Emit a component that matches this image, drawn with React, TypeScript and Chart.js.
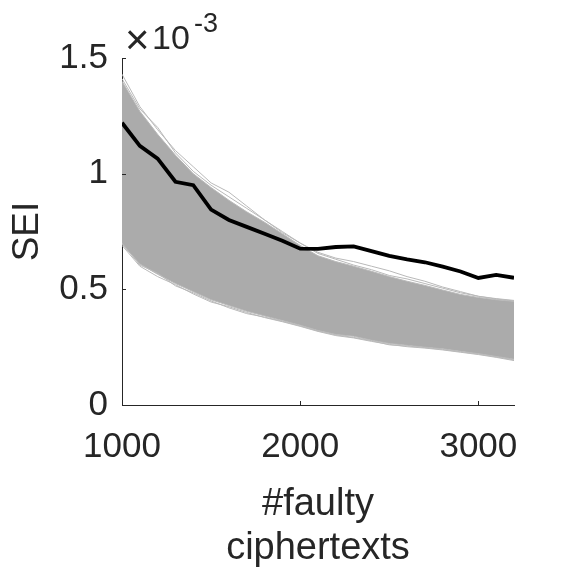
import React, { useEffect, useRef } from 'react';
import { Chart, registerables } from 'chart.js';

Chart.register(...registerables);

// x: number of faulty ciphertexts
const faultyCiphertexts = [1000, 1100, 1200, 1300, 1400, 1500, 1600, 1700, 1800, 1900, 2000, 2100, 2200, 2300, 2400, 2500, 2600, 2700, 2800, 2900, 3000, 3100, 3200];

// all SEI values in units of 1e-3
const seiCorrectKey = [1.22, 1.12, 1.065, 0.965, 0.95, 0.845, 0.8, 0.77, 0.74, 0.71, 0.676, 0.675, 0.683, 0.686, 0.665, 0.645, 0.63, 0.617, 0.598, 0.577, 0.549, 0.562, 0.55];

// envelope of the wrong-key SEI curves (grey band)
const seiWrongUpper = [1.4, 1.27, 1.17, 1.08, 1.0, 0.94, 0.885, 0.835, 0.79, 0.74, 0.69, 0.645, 0.62, 0.6, 0.578, 0.555, 0.535, 0.517, 0.497, 0.478, 0.465, 0.455, 0.448];
const seiWrongLower = [0.695, 0.61, 0.565, 0.525, 0.49, 0.455, 0.43, 0.405, 0.385, 0.365, 0.345, 0.322, 0.305, 0.297, 0.28, 0.266, 0.258, 0.25, 0.243, 0.232, 0.222, 0.21, 0.198];

// a few individual wrong-key curves visible at the band edges
const seiWrongHigh1 = [1.43, 1.29, 1.19, 1.1, 1.03, 0.96, 0.92, 0.86, 0.8, 0.75, 0.7, 0.66, 0.635, 0.62, 0.6, 0.58, 0.555, 0.535, 0.51, 0.49, 0.47, 0.46, 0.452];
const seiWrongHigh2 = [1.41, 1.28, 1.2, 1.09, 1.01, 0.95, 0.9, 0.85, 0.8, 0.745, 0.7, 0.655, 0.63, 0.605, 0.585, 0.56, 0.545, 0.525, 0.505, 0.485, 0.47, 0.458, 0.45];
const seiWrongLow1 = [0.69, 0.6, 0.555, 0.52, 0.48, 0.445, 0.425, 0.4, 0.378, 0.36, 0.34, 0.318, 0.3, 0.29, 0.275, 0.262, 0.252, 0.246, 0.238, 0.228, 0.218, 0.206, 0.192];
const seiWrongLow2 = [0.7, 0.605, 0.57, 0.515, 0.485, 0.45, 0.42, 0.395, 0.38, 0.362, 0.342, 0.32, 0.303, 0.292, 0.278, 0.26, 0.255, 0.248, 0.24, 0.23, 0.22, 0.208, 0.195];

const xTicks = [1000, 2000, 3000];
const yTicks = [0, 0.5, 1, 1.5];
const yExponentBase = '×';
const yExponentTen = '10';
const yExponentPower = '-3';

const FONT = "'Liberation Sans', Arial, Helvetica, sans-serif";
const AXIS_COLOR = '#262626';
const BAND_FILL = '#ababab';
const BAND_LINE = '#b9b9b9';

const toPoints = (ys: number[]) => ys.map((y, i) => ({ x: faultyCiphertexts[i], y }));

const matlabAxesPlugin = {
  id: 'matlabAxes',
  afterDatasetsDraw(chart: any) {
    const { ctx, chartArea, scales } = chart;
    const x = scales.x;
    const y = scales.y;
    ctx.save();
    ctx.strokeStyle = AXIS_COLOR;
    ctx.lineWidth = 1;
    yTicks.forEach((v) => {
      const py = Math.round(y.getPixelForValue(v)) + 0.5;
      ctx.beginPath();
      ctx.moveTo(chartArea.left, py);
      ctx.lineTo(chartArea.left + 4, py);
      ctx.stroke();
    });
    xTicks.forEach((v) => {
      const px = Math.round(x.getPixelForValue(v)) + 0.5;
      ctx.beginPath();
      ctx.moveTo(px, chartArea.bottom);
      ctx.lineTo(px, chartArea.bottom - 4);
      ctx.stroke();
    });
    // exponent label
    ctx.fillStyle = AXIS_COLOR;
    ctx.textBaseline = 'alphabetic';
    ctx.textAlign = 'left';
    const left = chartArea.left;
    const top = chartArea.top;
    ctx.font = `42px ${FONT}`;
    ctx.fillText(yExponentBase, left + 3, top - 4);
    ctx.font = `34px ${FONT}`;
    ctx.fillText(yExponentTen, left + 30, top - 9);
    ctx.font = `27px ${FONT}`;
    ctx.fillText(yExponentPower, left + 72, top - 26);
    ctx.restore();
  },
};

export default function App() {
  const canvasRef = useRef<HTMLCanvasElement | null>(null);

  useEffect(() => {
    document.body.style.margin = '0';
    const canvas = canvasRef.current;
    if (!canvas) return;
    const chart = new Chart(canvas, {
      type: 'line',
      data: {
        datasets: [
          {
            data: toPoints(seiWrongLower),
            borderColor: BAND_LINE,
            borderWidth: 1,
            pointRadius: 0,
            fill: false,
            order: 2,
          },
          {
            data: toPoints(seiWrongUpper),
            borderColor: BAND_LINE,
            borderWidth: 1,
            pointRadius: 0,
            backgroundColor: BAND_FILL,
            fill: '-1',
            order: 2,
          },
          { data: toPoints(seiWrongHigh1), borderColor: BAND_LINE, borderWidth: 1, pointRadius: 0, fill: false, order: 1 },
          { data: toPoints(seiWrongHigh2), borderColor: BAND_LINE, borderWidth: 1, pointRadius: 0, fill: false, order: 1 },
          { data: toPoints(seiWrongLow1), borderColor: BAND_LINE, borderWidth: 1, pointRadius: 0, fill: false, order: 1 },
          { data: toPoints(seiWrongLow2), borderColor: BAND_LINE, borderWidth: 1, pointRadius: 0, fill: false, order: 1 },
          {
            data: toPoints(seiCorrectKey),
            borderColor: '#000000',
            borderWidth: 3.8,
            pointRadius: 0,
            fill: false,
            order: 0,
          },
        ],
      },
      options: {
        responsive: false,
        animation: false,
        events: [],
        layout: { padding: { top: 58, right: 57, left: 0, bottom: 0 } },
        plugins: { legend: { display: false }, tooltip: { enabled: false } },
        scales: {
          x: {
            type: 'linear',
            min: 1000,
            max: 3200,
            afterFit: (s: any) => { s.height = 166; },
            afterBuildTicks: (s: any) => { s.ticks = xTicks.map((v) => ({ value: v })); },
            grid: { display: false, drawTicks: false },
            border: { display: true, color: AXIS_COLOR, width: 1 },
            ticks: {
              color: AXIS_COLOR,
              padding: 21,
              maxRotation: 0,
              font: { family: FONT, size: 35 },
              callback: (v: any) => String(v),
            },
            title: {
              display: true,
              text: ['#faulty', 'ciphertexts'],
              color: AXIS_COLOR,
              font: { family: FONT, size: 38, lineHeight: 1.15 },
              padding: { top: 0, bottom: 1 },
            },
          },
          y: {
            type: 'linear',
            min: 0,
            max: 1.5,
            afterFit: (s: any) => { s.width = 122; },
            afterBuildTicks: (s: any) => { s.ticks = yTicks.map((v) => ({ value: v })); },
            grid: { display: false, drawTicks: false },
            border: { display: true, color: AXIS_COLOR, width: 1 },
            ticks: {
              color: AXIS_COLOR,
              padding: 14,
              font: { family: FONT, size: 35 },
              callback: (v: any) => String(v),
            },
            title: {
              display: true,
              text: 'SEI',
              color: AXIS_COLOR,
              font: { family: FONT, size: 37, lineHeight: 1.2 },
              padding: { top: 6, bottom: 0 },
            },
          },
        },
      },
      plugins: [matlabAxesPlugin],
    });
    return () => chart.destroy();
  }, []);

  return (
    <div style={{ position: 'absolute', left: 0, top: 0, width: 571, height: 571 }}>
      <canvas ref={canvasRef} width={571} height={571} style={{ display: 'block', width: 571, height: 571 }} />
    </div>
  );
}
